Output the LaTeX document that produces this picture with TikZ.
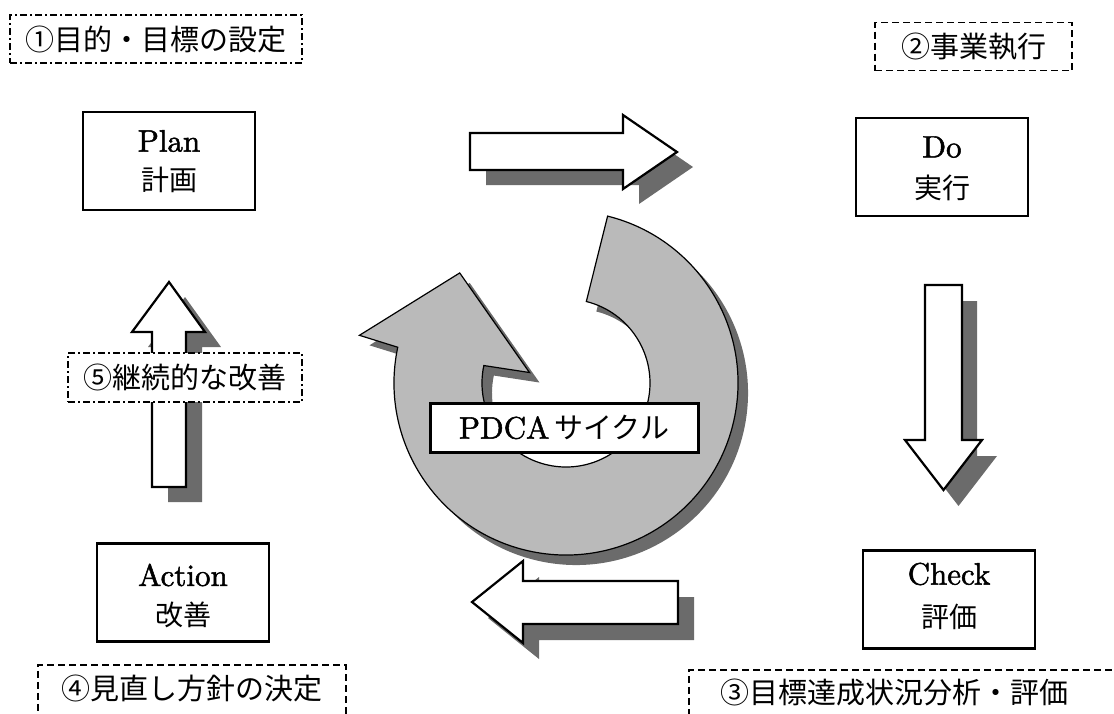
\documentclass[tikz,border=0pt]{standalone}
\usepackage{fontspec}
\newfontfamily\jp{Noto Sans CJK JP}
\newfontfamily\jpb{Noto Sans CJK JP}[FakeBold=1.2]
\newfontfamily\lmb{lmroman10-regular.otf}[FakeBold=1.6]
\begin{document}
\begin{tikzpicture}[x=1pt,y=-1pt,
  stagebox/.style={draw=black, line width=2.8pt, fill=white, minimum width=172pt, minimum height=98pt, inner sep=0pt},
  entext/.style={inner sep=0pt, font=\lmb\fontsize{31}{31}\selectfont},
  jptext/.style={inner sep=0pt, font=\jp\fontsize{28}{28}\selectfont},
  lbl/.style={inner sep=0pt, fill=white, line width=1.8pt, font=\jp\fontsize{29}{32}\selectfont},
  dashdotbox/.style={draw=black, dash pattern=on 7pt off 3pt on 2pt off 3pt},
  dashbox/.style={draw=black, dash pattern=on 7pt off 4pt},
  shadowfill/.style={fill=black!58, draw=none},
  blockarrow/.style={fill=white, draw=black, line width=2.2pt, line join=miter},
  ringfill/.style={fill=black!27, draw=black, line width=1.2pt},
  ringshadow/.style={fill=black!58, draw=none}
]
\useasboundingbox (0,0) rectangle (1114,713);

% ---- circular PDCA arrow ----
\begin{scope}[shift={(576,393)}, yscale=-1]
  \path[ringshadow] (76:172) arc[start angle=76, end angle=-192, radius=172] -- (167:212) -- (134:153) -- (164:38) -- (168:84) arc[start angle=168, end angle=436, radius=84] -- cycle;
\end{scope}
\begin{scope}[shift={(566,383)}, yscale=-1]
  \path[ringfill] (76:172) arc[start angle=76, end angle=-192, radius=172] -- (167:212) -- (134:153) -- (164:38) -- (168:84) arc[start angle=168, end angle=436, radius=84] -- cycle;
\end{scope}
\node[draw=black, line width=3pt, fill=white, minimum width=268pt, minimum height=49pt, inner sep=0pt] (pdca) at (564,427.5)
  {\lmb\fontsize{31}{31}\selectfont PDCA\,{\jp\fontsize{29}{29}\selectfont サイクル}};

% ---- block arrows (shadow first) ----
% Plan -> Do
\path[shadowfill, shift={(16,15)}] (470,133)--(623,133)--(623,115)--(677,152)--(623,189)--(623,170)--(470,170)--cycle;
\path[blockarrow] (470,133)--(623,133)--(623,115)--(677,152)--(623,189)--(623,170)--(470,170)--cycle;
% Do -> Check
\path[shadowfill, shift={(15,16)}] (925,285)--(962,285)--(962,440)--(982,440)--(943.5,490)--(905,440)--(925,440)--cycle;
\path[blockarrow] (925,285)--(962,285)--(962,440)--(982,440)--(943.5,490)--(905,440)--(925,440)--cycle;
% Check -> Action
\path[shadowfill, shift={(16,16)}] (678,581)--(678,624)--(523,624)--(523,643)--(472,602)--(523,561)--(523,581)--cycle;
\path[blockarrow] (678,581)--(678,624)--(523,624)--(523,643)--(472,602)--(523,561)--(523,581)--cycle;
% Action -> Plan
\path[shadowfill, shift={(16,15)}] (152,487)--(186,487)--(186,332)--(205,332)--(169,282)--(132,332)--(152,332)--cycle;
\path[blockarrow] (152,487)--(186,487)--(186,332)--(205,332)--(169,282)--(132,332)--(152,332)--cycle;

% ---- stage boxes ----
\node[stagebox] (plan) at (169,161) {};
\node[entext] (planen) at (169,141) {Plan};
\node[jptext] (planjp) at (169,180) {計画};

\node[stagebox] (do) at (942,167) {};
\node[entext] (doen) at (942,147) {Do};
\node[jptext] (dojp) at (942,188) {実行};

\node[stagebox] (check) at (949,599.5) {};
\node[entext] (checken) at (949,574) {Check};
\node[jptext] (checkjp) at (949,617) {評価};

\node[stagebox] (action) at (183,592.5) {};
\node[entext] (actionen) at (183,575) {Action};
\node[jptext] (actionjp) at (183,615) {改善};

% ---- step labels ----
\node[lbl, dashdotbox, minimum width=292pt, minimum height=48pt] (l1) at (156,39) {①目的・目標の設定};
\node[lbl, dashbox, minimum width=197pt, minimum height=48pt] (l2) at (973.5,46.5) {②事業執行};
\node[lbl, dashbox, minimum width=440pt, minimum height=60pt, anchor=north west] (l3) at (688,669) {};
\node[inner sep=0pt, font=\jp\fontsize{29}{32}\selectfont] (l3t) at (894,692) {③目標達成状況分析・評価};
\node[lbl, dashbox, minimum width=308pt, minimum height=60pt, anchor=north west] (l4) at (37,664) {};
\node[inner sep=0pt, font=\jp\fontsize{29}{32}\selectfont] (l4t) at (192,688) {④見直し方針の決定};
\node[lbl, dashdotbox, minimum width=234pt, minimum height=49pt] (l5) at (185,377.5) {⑤継続的な改善};
\end{tikzpicture}
\end{document}
